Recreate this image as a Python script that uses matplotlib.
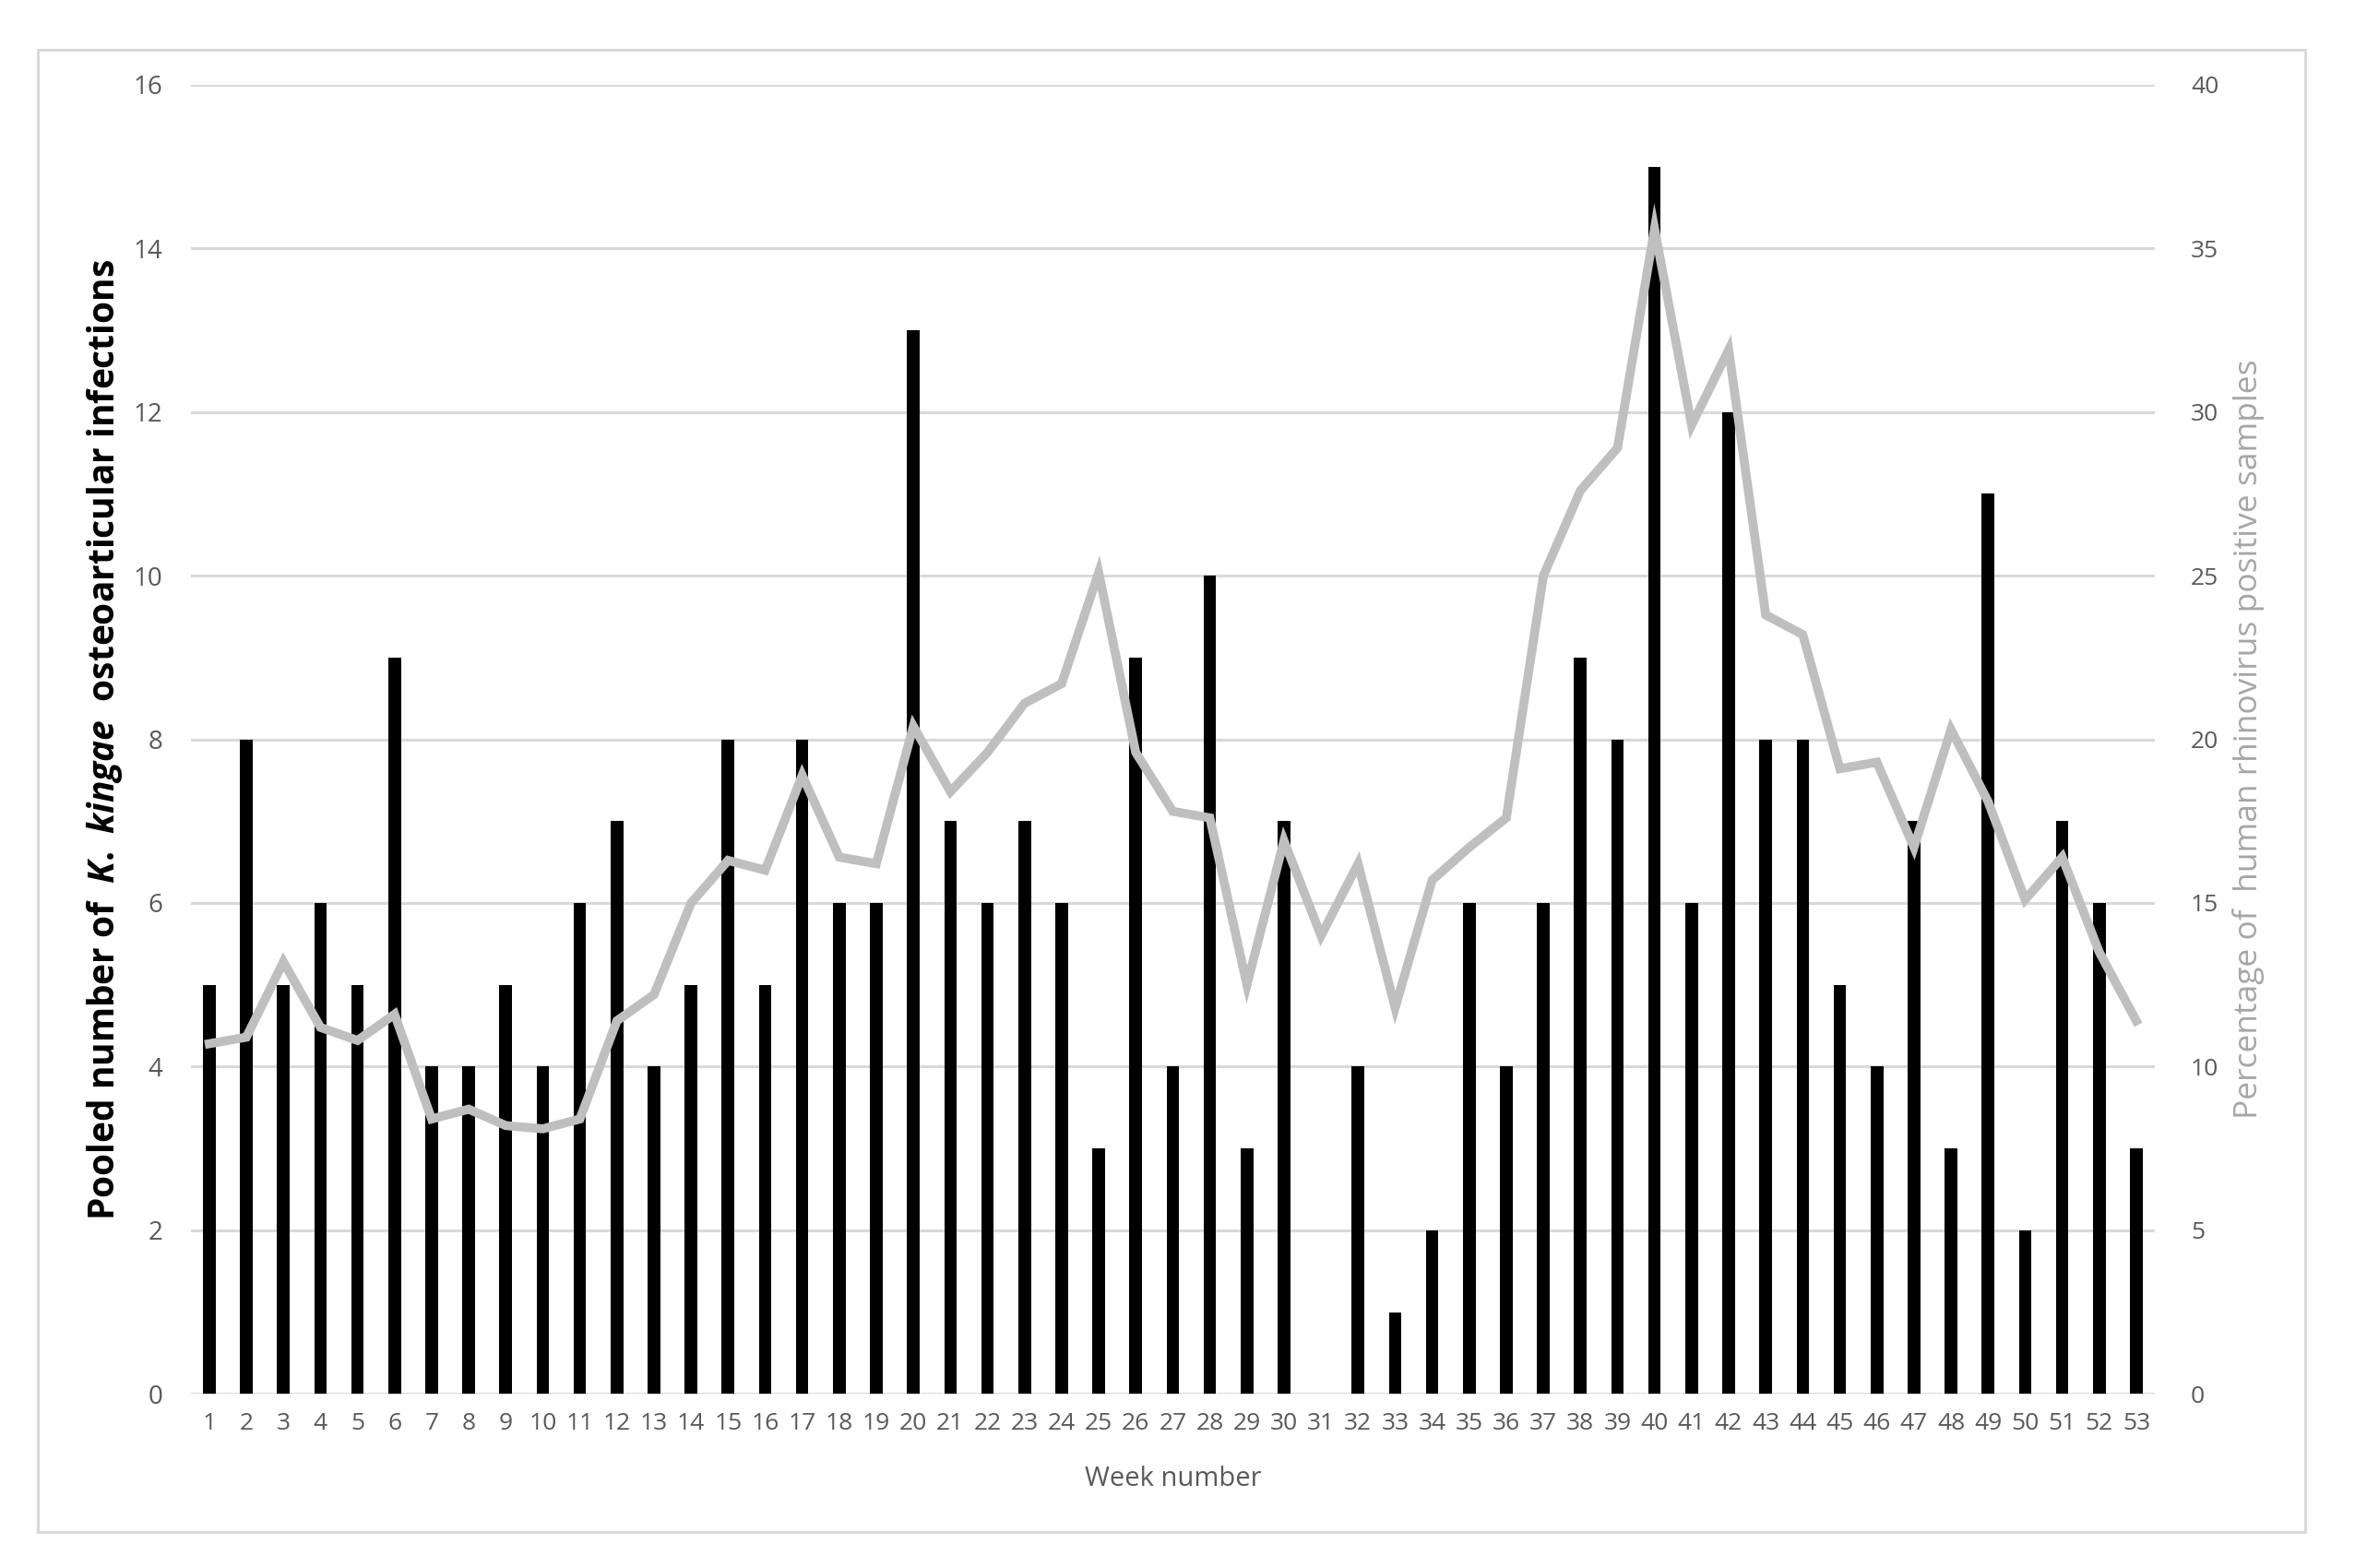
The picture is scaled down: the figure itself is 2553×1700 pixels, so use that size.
import matplotlib
matplotlib.use("Agg")
import matplotlib.pyplot as plt
from matplotlib.patches import Rectangle

weeks = list(range(1, 54))
infections = [5, 8, 5, 6, 5, 9, 4, 4, 5, 4, 6, 7, 4, 5, 8, 5, 8, 6, 6, 13,
              7, 6, 7, 6, 3, 9, 4, 10, 3, 7, 0, 4, 1, 2, 6, 4, 6, 9, 8, 15,
              6, 12, 8, 8, 5, 4, 7, 3, 11, 2, 7, 6, 3]
rhinovirus_pct = [10.7, 10.9, 13.2, 11.2, 10.8, 11.6, 8.4, 8.7, 8.2, 8.1,
                  8.4, 11.4, 12.2, 15.0, 16.3, 16.0, 18.9, 16.4, 16.2, 20.4,
                  18.4, 19.6, 21.1, 21.7, 25.1, 19.6, 17.8, 17.6, 12.5, 16.9,
                  14.0, 16.2, 11.8, 15.7, 16.7, 17.6, 25.0, 27.6, 28.9, 35.6,
                  29.6, 31.9, 23.8, 23.2, 19.1, 19.3, 16.7, 20.3, 18.1, 15.1,
                  16.4, 13.5, 11.4]
left_ticks = [0, 2, 4, 6, 8, 10, 12, 14, 16]
right_ticks = [0, 5, 10, 15, 20, 25, 30, 35, 40]

plt.rcParams['mathtext.fontset'] = 'custom'
plt.rcParams['mathtext.rm'] = 'Open Sans:bold'
plt.rcParams['mathtext.it'] = 'Open Sans:italic:bold'
plt.rcParams['mathtext.bf'] = 'Open Sans:bold'
try:
    plt.rcParams['mathtext.bfit'] = 'Open Sans:italic:bold'
except KeyError:
    pass

tick_font = ['Open Sans', 'DejaVu Sans']

fig = plt.figure(figsize=(25.53, 17.0), dpi=100)
fig.patches.append(Rectangle((0.016, 0.023), 0.963, 0.945, transform=fig.transFigure,
                             fill=False, edgecolor='#D9D9D9', linewidth=2.2))

ax = fig.add_axes([0.081, 0.111, 0.834, 0.835])
ax2 = ax.twinx()

x = list(range(len(weeks)))
ax.bar(x, infections, width=0.34, color='black', zorder=2)
ax.set_ylim(0, 16)
ax.set_xlim(-0.5, len(weeks) - 0.5)
ax.set_yticks(left_ticks)
ax.yaxis.grid(True, color='#D9D9D9', linewidth=2.2, zorder=0)
ax.set_axisbelow(True)
ax.set_xticks(x)
ax.set_xticklabels([str(w) for w in weeks])

ax2.plot(x, rhinovirus_pct, color='#BFBFBF', linewidth=7, solid_joinstyle='miter', zorder=3)
ax2.set_ylim(0, 40)
ax2.set_yticks(right_ticks)

for a in (ax, ax2):
    for s in a.spines.values():
        s.set_visible(False)
    a.tick_params(length=0, colors='#595959')

ax.tick_params(axis='y', pad=22, labelsize=20)
ax.tick_params(axis='x', pad=14, labelsize=19)
ax2.tick_params(axis='y', pad=28, labelsize=19)
for lab in ax.get_xticklabels() + ax.get_yticklabels() + ax2.get_yticklabels():
    lab.set_family(tick_font)

ax.set_xlabel('Week number', fontsize=21, color='#595959', family=['Open Sans', 'DejaVu Sans'], labelpad=24)
ax.set_ylabel(r'Pooled number of  $\mathit{K.\ kingae}$  osteoarticular infections',
              fontsize=28, fontweight='bold', color='black',
              family=['Open Sans', 'DejaVu Sans'], labelpad=7)
ax2.set_ylabel('Percentage of  human rhinovirus positive samples', fontsize=25.5,
               color='#A6A6A6', family=['Open Sans', 'DejaVu Sans'], labelpad=11)

ax2.set_zorder(ax.get_zorder() + 1)
ax2.patch.set_visible(False)

fig.savefig('out.png', dpi=100, facecolor='white')
